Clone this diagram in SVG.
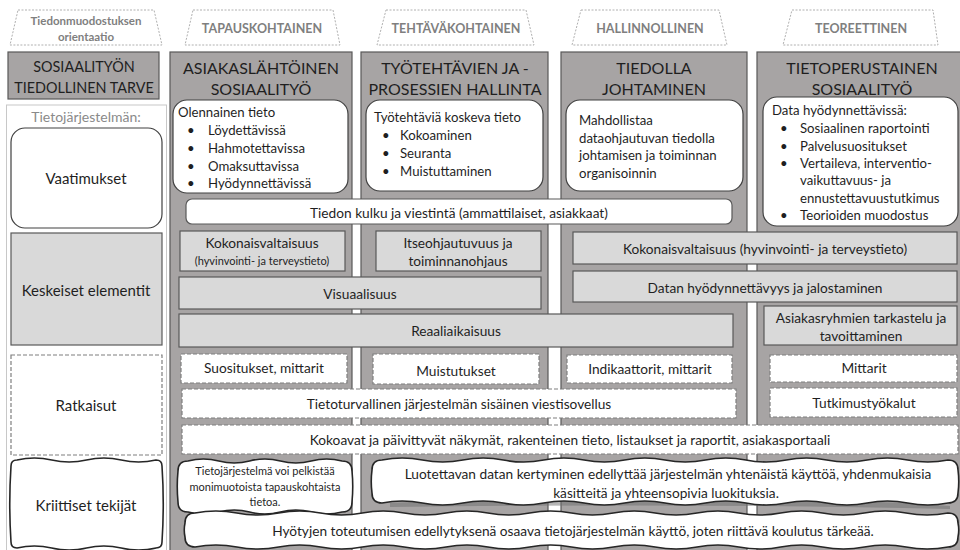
<svg xmlns="http://www.w3.org/2000/svg" width="960" height="550" viewBox="0 0 960 550">
<style>
text{font-family:Lato,"Liberation Sans",sans-serif;fill:#1f1f1f;dominant-baseline:central}
.tab{fill:#fff;stroke:#b0b0b0;stroke-width:1;stroke-dasharray:2 1.5}
.tabt{font-size:12.5px;font-weight:bold;fill:#7f7f7f;text-anchor:middle}
.tabs{font-size:11.5px;font-weight:bold;fill:#7f7f7f;text-anchor:middle}
.col{fill:#a7a4a4;stroke:#595959;stroke-width:1.2}
.ttl{font-size:16px;text-anchor:middle}
.rbox{fill:#fff;stroke:#404040;stroke-width:1.2}
.gbox{fill:#d9d9d9;stroke:#595959;stroke-width:1.2}
.wbox{fill:#fff;stroke:#595959;stroke-width:1.2}
.dbox{fill:#fff;stroke:#7f7f7f;stroke-width:1.2;stroke-dasharray:4 2}
.wave{fill:#fff;stroke:#262626;stroke-width:1.6}
.t{font-size:13.2px}
.c{font-size:13.7px;text-anchor:middle}
.s{font-size:11px;text-anchor:middle}
.lab{font-size:15px;text-anchor:middle}
.lt{font-size:14.4px;text-anchor:middle}
</style>

<g id="header-left">
<path class="tab" d="M18,10 L154,10 L162,45 L10,45 Z"/>
<text class="tabs" x="86" y="20">Tiedonmuodostuksen</text>
<text class="tabs" x="86" y="36">orientaatio</text>
</g>
<g id="header-tapaus">
<path class="tab" d="M193,10 L333,10 L340,45 L185,45 Z"/>
<text class="tabt" x="262" y="28">TAPAUSKOHTAINEN</text>
</g>
<g id="header-tehtava">
<path class="tab" d="M386,10 L526,10 L534,45 L377,45 Z"/>
<text class="tabt" x="456" y="28">TEHTÄVÄKOHTAINEN</text>
</g>
<g id="header-hallinnollinen">
<path class="tab" d="M581,10 L719,10 L727,45 L572,45 Z"/>
<text class="tabt" x="650" y="28">HALLINNOLLINEN</text>
</g>
<g id="header-teoreettinen">
<path class="tab" d="M792,10 L933,10 L938,45 L783,45 Z"/>
<text class="tabt" x="861" y="28">TEOREETTINEN</text>
</g>

<g id="left-column">
<rect x="8" y="52" width="151" height="47" fill="#a7a4a4" stroke="#595959" stroke-width="1.2"/>
<text class="lt" x="84" y="66">SOSIAALITYÖN</text>
<text class="lt" x="84" y="87">TIEDOLLINEN TARVE</text>
<rect x="6.5" y="105" width="160" height="450" fill="#fff" stroke="#c8c8c8" stroke-width="1"/>
<text x="86" y="116" font-size="14" text-anchor="middle" style="fill:#8a8a8a">Tietojärjestelmän:</text>
<rect class="rbox" x="11" y="128" width="151" height="100" rx="14"/>
<text class="lab" x="86" y="178">Vaatimukset</text>
<rect class="gbox" x="11" y="233" width="151" height="112"/>
<text class="lab" x="86" y="290">Keskeiset elementit</text>
<rect class="dbox" x="11" y="355" width="151" height="100"/>
<text class="lab" x="86" y="405">Ratkaisut</text>
<path class="wave" d="M17,460 q17.4,-4 34.75,0 t34.75,0 t34.75,0 t34.75,0 Q162,460 162,466 q2.5,38 0,76 Q162,548 156,548 q-17.4,4 -34.75,0 t-34.75,0 t-34.75,0 t-34.75,0 Q11,548 11,542 q-2.5,-38 0,-76 Q11,460 17,460 Z"/>
<text class="lab" x="86" y="505">Kriittiset tekijät</text>
</g>

<g id="col-asiakas">
<rect class="col" x="170" y="52" width="182" height="500"/>
<text class="ttl" x="261" y="67">ASIAKASLÄHTÖINEN</text>
<text class="ttl" x="261" y="88">SOSIAALITYÖ</text>
<rect class="rbox" x="173" y="100" width="175" height="93" rx="14"/>
<text class="t" x="178" y="112">Olennainen tieto</text>
<text class="t" x="187" y="130">•</text><text class="t" x="208" y="130">Löydettävissä</text>
<text class="t" x="187" y="148">•</text><text class="t" x="208" y="148">Hahmotettavissa</text>
<text class="t" x="187" y="166">•</text><text class="t" x="208" y="166">Omaksuttavissa</text>
<text class="t" x="187" y="183">•</text><text class="t" x="208" y="183">Hyödynnettävissä</text>
</g>

<g id="col-tyotehtavat">
<rect class="col" x="361" y="52" width="187" height="500"/>
<text class="ttl" x="455" y="67">TYÖTEHTÄVIEN JA -</text>
<text class="ttl" x="455" y="88">PROSESSIEN HALLINTA</text>
<rect class="rbox" x="366" y="100" width="177" height="91" rx="14"/>
<text class="t" x="374" y="117">Työtehtäviä koskeva tieto</text>
<text class="t" x="382" y="135">•</text><text class="t" x="400" y="135">Kokoaminen</text>
<text class="t" x="382" y="153">•</text><text class="t" x="400" y="153">Seuranta</text>
<text class="t" x="382" y="171">•</text><text class="t" x="400" y="171">Muistuttaminen</text>
</g>

<g id="col-johtaminen">
<rect class="col" x="561" y="52" width="186" height="500"/>
<text class="ttl" x="654" y="67">TIEDOLLA</text>
<text class="ttl" x="654" y="88">JOHTAMINEN</text>
<rect class="rbox" x="566" y="100" width="177" height="91" rx="14"/>
<text class="t" x="579" y="120">Mahdollistaa</text>
<text class="t" x="579" y="138">dataohjautuvan tiedolla</text>
<text class="t" x="579" y="155">johtamisen ja toiminnan</text>
<text class="t" x="579" y="173">organisoinnin</text>
</g>

<g id="col-tietoperustainen">
<rect class="col" x="757" y="52" width="210" height="500"/>
<text class="ttl" x="862" y="67">TIETOPERUSTAINEN</text>
<text class="ttl" x="862" y="88">SOSIAALITYÖ</text>
<rect class="rbox" x="763" y="97" width="195" height="129" rx="14"/>
<text class="t" x="772" y="110">Data hyödynnettävissä:</text>
<text class="t" x="780" y="128">•</text><text class="t" x="800" y="128">Sosiaalinen raportointi</text>
<text class="t" x="780" y="146">•</text><text class="t" x="800" y="146">Palvelusuositukset</text>
<text class="t" x="780" y="163">•</text><text class="t" x="800" y="163">Vertaileva, interventio-</text>
<text class="t" x="800" y="180">vaikuttavuus- ja</text>
<text class="t" x="800" y="198">ennustettavuustutkimus</text>
<text class="t" x="780" y="215">•</text><text class="t" x="800" y="215">Teorioiden muodostus</text>
</g>

<g id="elements">
<g id="tiedon-kulku"><rect class="wbox" x="186" y="199" width="546" height="25" rx="6"/><text class="c" x="459" y="212">Tiedon kulku ja viestintä (ammattilaiset, asiakkaat)</text></g>
<g id="kokonais-1"><rect class="gbox" x="180" y="231" width="165" height="40"/><text class="c" x="262" y="242">Kokonaisvaltaisuus</text><text class="s" x="262" y="260">(hyvinvointi- ja terveystieto)</text></g>
<g id="itseohjautuvuus"><rect class="gbox" x="376" y="231" width="165" height="40"/><text class="c" x="458" y="242">Itseohjautuvuus ja</text><text class="c" x="458" y="260">toiminnanohjaus</text></g>
<g id="kokonais-2"><rect class="gbox" x="573" y="232" width="384" height="32"/><text class="c" x="765" y="248">Kokonaisvaltaisuus (hyvinvointi- ja terveystieto)</text></g>
<g id="visuaalisuus"><rect class="gbox" x="179" y="277" width="362" height="32"/><text class="c" x="360" y="293">Visuaalisuus</text></g>
<g id="datan"><rect class="gbox" x="573" y="271" width="384" height="31"/><text class="c" x="765" y="287">Datan hyödynnettävyys ja jalostaminen</text></g>
<g id="reaaliaikaisuus"><rect class="gbox" x="179" y="314" width="554" height="33"/><text class="c" x="456" y="330">Reaaliaikaisuus</text></g>
<g id="asiakasryhmat"><rect class="gbox" x="764" y="306" width="193" height="39"/><text class="c" x="861" y="317">Asiakasryhmien tarkastelu ja</text><text class="c" x="861" y="335">tavoittaminen</text></g>
</g>

<g id="solutions">
<g id="suositukset"><rect class="dbox" x="181" y="354" width="166" height="29"/><text class="c" x="264" y="367">Suositukset, mittarit</text></g>
<g id="muistutukset"><rect class="dbox" x="373" y="354" width="166" height="30"/><text class="c" x="456" y="370">Muistutukset</text></g>
<g id="indikaattorit"><rect class="dbox" x="567" y="355" width="165" height="28"/><text class="c" x="650" y="368">Indikaattorit, mittarit</text></g>
<g id="mittarit"><rect class="dbox" x="770" y="355" width="187" height="27"/><text class="c" x="864" y="367">Mittarit</text></g>
<g id="viestisovellus"><rect class="dbox" x="182" y="389" width="554" height="29"/><text class="c" x="459" y="403">Tietoturvallinen järjestelmän sisäinen viestisovellus</text></g>
<g id="tutkimustyokalut"><rect class="dbox" x="770" y="388" width="187" height="29"/><text class="c" x="864" y="402">Tutkimustyökalut</text></g>
<g id="nakymat"><rect class="dbox" x="182" y="425" width="776" height="29"/><text class="c" x="570" y="439">Kokoavat ja päivittyvät näkymät, rakenteinen tieto, listaukset ja raportit, asiakasportaali</text></g>
</g>

<g id="critical">
<g id="pelkistaa">
<path class="wave" d="M188,461 q15.4,-4 30.8,0 t30.8,0 t30.8,0 t30.8,0 t30.8,0 Q352,461 352,471 q1.5,15.5 0,31 Q352,512 342,512 q-15.4,4 -30.8,0 t-30.8,0 t-30.8,0 t-30.8,0 t-30.8,0 Q178,512 178,502 q-1.5,-15.5 0,-31 Q178,461 188,461 Z"/>
<text class="s" x="265" y="470">Tietojärjestelmä voi pelkistää</text>
<text class="s" x="265" y="486">monimuotoista tapauskohtaista</text>
<text class="s" x="265" y="501">tietoa.</text>
</g>
<g id="luotettavan">
<path d="M390,503 Q560,494 740,497 Q860,500 950,506 L950,509 Q700,503 390,507 Z" fill="#6e6e6e" opacity="0.5"/>
<path class="wave" d="M382,460 q20.21,-4 40.43,0 t40.43,0 t40.43,0 t40.43,0 t40.43,0 t40.43,0 t40.43,0 t40.43,0 t40.43,0 t40.43,0 t40.43,0 t40.43,0 t40.43,0 t40.43,0 Q958,460 958,470 q1.5,11.5 0,23 Q958,503 948,503 q-20.21,4 -40.43,0 t-40.43,0 t-40.43,0 t-40.43,0 t-40.43,0 t-40.43,0 t-40.43,0 t-40.43,0 t-40.43,0 t-40.43,0 t-40.43,0 t-40.43,0 t-40.43,0 t-40.43,0 Q372,503 372,493 q-1.5,-11.5 0,-23 Q372,460 382,460 Z"/>
<text class="c" x="668" y="473">Luotettavan datan kertyminen edellyttää järjestelmän yhtenäistä käyttöä, yhdenmukaisia</text>
<text class="c" x="666" y="492">käsitteitä ja yhteensopivia luokituksia.</text>
</g>
<g id="hyotyjen">
<path class="wave" d="M195,513 q20.92,-4 41.83,0 t41.83,0 t41.83,0 t41.83,0 t41.83,0 t41.83,0 t41.83,0 t41.83,0 t41.83,0 t41.83,0 t41.83,0 t41.83,0 t41.83,0 t41.83,0 t41.83,0 t41.83,0 t41.83,0 t41.83,0 Q958,513 958,523 q1.5,7 0,14 Q958,547 948,547 q-20.92,4 -41.83,0 t-41.83,0 t-41.83,0 t-41.83,0 t-41.83,0 t-41.83,0 t-41.83,0 t-41.83,0 t-41.83,0 t-41.83,0 t-41.83,0 t-41.83,0 t-41.83,0 t-41.83,0 t-41.83,0 t-41.83,0 t-41.83,0 t-41.83,0 Q185,547 185,537 q-1.5,-7 0,-14 Q185,513 195,513 Z"/>
<text class="c" x="573" y="530">Hyötyjen toteutumisen edellytyksenä osaava tietojärjestelmän käyttö, joten riittävä koulutus tärkeää.</text>
</g>
</g>
<g id="connectors"></g>
</svg>
